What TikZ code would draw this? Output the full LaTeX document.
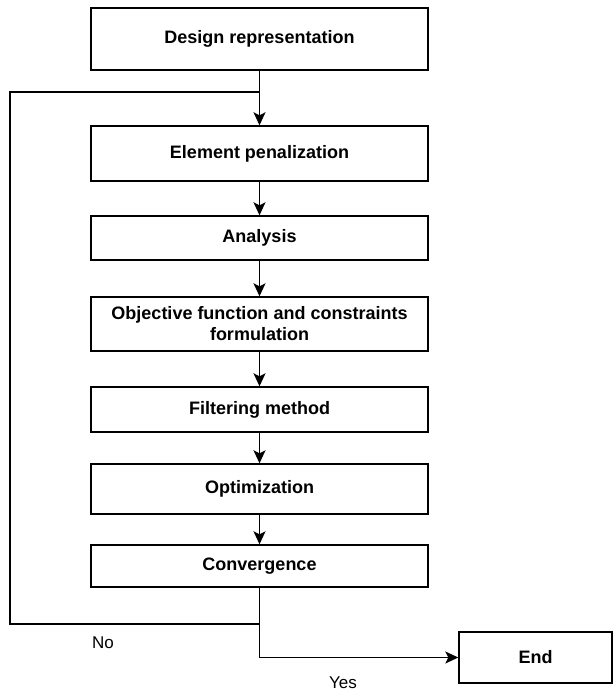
\documentclass[tikz,border=0pt]{standalone}
\usepackage{fontspec}
\setmainfont{Liberation Sans}
\usetikzlibrary{arrows.meta}

\tikzset{
  blk/.style={draw, line width=1.4pt, minimum width=337pt, inner sep=2pt,
    align=center, font=\bfseries\fontsize{18}{21}\selectfont},
  arr/.style={line width=1.4pt, -{Stealth[length=13pt,width=12pt,inset=3pt]}},
  lnk/.style={line width=1.4pt}
}

\begin{document}
\begin{tikzpicture}[x=1pt,y=-1pt]
\useasboundingbox (0,0) rectangle (613,692);

%flow boxes
\node[blk, minimum height=62pt] (des) at (259.5,39) {Design representation};
\node[blk, minimum height=55pt] (pen) at (259.5,153.5) {Element penalization};
\node[blk, minimum height=44pt] (ana) at (259.5,238) {Analysis};
\node[blk, minimum height=54pt] (obj) at (259.5,324) {Objective function and constraints\\formulation};
\node[blk, minimum height=45pt] (fil) at (259.5,409.5) {Filtering method};
\node[blk, minimum height=50pt] (opt) at (259.5,489) {Optimization};
\node[blk, minimum height=42pt] (con) at (259.5,566) {Convergence};
\node[blk, minimum width=153pt, minimum height=51pt] (end) at (535.5,657.5) {End};

\coordinate (j) at (259.5,92);
\coordinate (s) at (259.5,624);

\draw[arr] (des) -- (pen);
\draw[arr] (pen) -- (ana);
\draw[arr] (ana) -- (obj);
\draw[arr] (obj) -- (fil);
\draw[arr] (fil) -- (opt);
\draw[arr] (opt) -- (con);

%loop back
\draw[lnk] (con.south) -- (s) -- (10,624) -- (10,92) -- (j);
\draw[arr] (s) |- (end.west);

\node[font=\fontsize{17}{20}\selectfont] (no) at (103,643) {No};
\node[font=\fontsize{17}{20}\selectfont] (yes) at (343,683) {Yes};

\end{tikzpicture}
\end{document}
